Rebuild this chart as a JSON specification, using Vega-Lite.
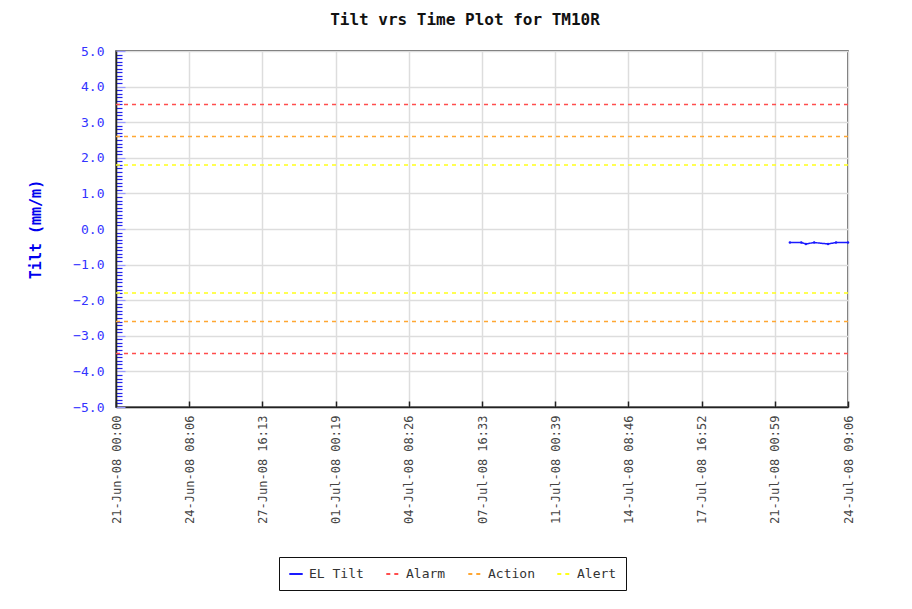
{
  "$schema": "https://vega.github.io/schema/vega-lite/v6.json",
  "width": 732,
  "height": 356,
  "autosize": {"type": "none"},
  "padding": {"left": 116, "top": 51, "right": 64, "bottom": 202},
  "background": "white",
  "title": {
    "text": "Tilt vrs Time Plot for TM10R",
    "font": "DejaVu Sans Mono",
    "fontSize": 16,
    "fontWeight": "bold",
    "color": "#111111",
    "anchor": "middle",
    "offset": 17,
    "dx": -17
  },
  "config": {
    "view": {"stroke": "#333333", "strokeWidth": 1.5},
    "axis": {"labelFont": "DejaVu Sans Mono", "titleFont": "DejaVu Sans Mono"}
  },
  "datasets": {
    "limits": [
      {"series": "Alarm", "value": 3.5},
      {"series": "Alarm", "value": -3.5},
      {"series": "Action", "value": 2.6},
      {"series": "Action", "value": -2.6},
      {"series": "Alert", "value": 1.8},
      {"series": "Alert", "value": -1.8}
    ],
    "tilt": [
      {"series": "EL Tilt", "time": "2008-07-21T17:30:00", "tilt": -0.38},
      {"series": "EL Tilt", "time": "2008-07-22T06:00:00", "tilt": -0.38},
      {"series": "EL Tilt", "time": "2008-07-22T11:00:00", "tilt": -0.42},
      {"series": "EL Tilt", "time": "2008-07-22T20:00:00", "tilt": -0.38},
      {"series": "EL Tilt", "time": "2008-07-23T11:15:00", "tilt": -0.42},
      {"series": "EL Tilt", "time": "2008-07-23T20:00:00", "tilt": -0.38},
      {"series": "EL Tilt", "time": "2008-07-24T09:06:00", "tilt": -0.38}
    ]
  },
  "layer": [
    {
      "data": {"name": "tilt"},
      "mark": {"type": "line", "strokeWidth": 1.5, "point": {"filled": true, "size": 6}},
      "encoding": {
        "x": {
          "field": "time",
          "type": "temporal",
          "scale": {
            "domain": [
              {"year": 2008, "month": "Jun", "date": 21, "hours": 0, "minutes": 0},
              {"year": 2008, "month": "Jul", "date": 24, "hours": 9, "minutes": 6}
            ]
          },
          "axis": {
            "title": null,
            "values": [
              {"year": 2008, "month": "Jun", "date": 21, "hours": 0, "minutes": 0},
              {"year": 2008, "month": "Jun", "date": 24, "hours": 8, "minutes": 6},
              {"year": 2008, "month": "Jun", "date": 27, "hours": 16, "minutes": 13},
              {"year": 2008, "month": "Jul", "date": 1, "hours": 0, "minutes": 19},
              {"year": 2008, "month": "Jul", "date": 4, "hours": 8, "minutes": 26},
              {"year": 2008, "month": "Jul", "date": 7, "hours": 16, "minutes": 33},
              {"year": 2008, "month": "Jul", "date": 11, "hours": 0, "minutes": 39},
              {"year": 2008, "month": "Jul", "date": 14, "hours": 8, "minutes": 46},
              {"year": 2008, "month": "Jul", "date": 17, "hours": 16, "minutes": 52},
              {"year": 2008, "month": "Jul", "date": 21, "hours": 0, "minutes": 59},
              {"year": 2008, "month": "Jul", "date": 24, "hours": 9, "minutes": 6}
            ],
            "tickCount": 50,
            "format": "%d-%b-%y %H:%M",
            "labelAngle": -90,
            "labelFontSize": 12,
            "labelColor": "#444444",
            "labelFlush": false,
            "labelOverlap": false,
            "labelPadding": 14,
            "tickSize": -6,
            "tickColor": "#222222",
            "tickWidth": 1.5,
            "domainColor": "#222222",
            "domainWidth": 1.5,
            "grid": true,
            "gridColor": "#dddddd",
            "gridWidth": 1.5
          }
        },
        "y": {
          "field": "tilt",
          "type": "quantitative",
          "scale": {"domain": [-5, 5], "nice": false, "zero": false},
          "axis": {
            "title": "Tilt (mm/m)",
            "titleColor": "#0000ee",
            "titleFontSize": 15,
            "titleFontWeight": "bold",
            "titleAngle": -90,
            "titleX": -81,
            "titleY": 178,
            "titleAlign": "center",
            "titleBaseline": "middle",
            "values": [-5, -4.9, -4.8, -4.7, -4.6, -4.5, -4.4, -4.3, -4.2, -4.1, -4, -3.9, -3.8, -3.7, -3.6, -3.5, -3.4, -3.3, -3.2, -3.1, -3, -2.9, -2.8, -2.7, -2.6, -2.5, -2.4, -2.3, -2.2, -2.1, -2, -1.9, -1.8, -1.7, -1.6, -1.5, -1.4, -1.3, -1.2, -1.1, -1, -0.9, -0.8, -0.7, -0.6, -0.5, -0.4, -0.3, -0.2, -0.1, 0, 0.1, 0.2, 0.3, 0.4, 0.5, 0.6, 0.7, 0.8, 0.9, 1, 1.1, 1.2, 1.3, 1.4, 1.5, 1.6, 1.7, 1.8, 1.9, 2, 2.1, 2.2, 2.3, 2.4, 2.5, 2.6, 2.7, 2.8, 2.9, 3, 3.1, 3.2, 3.3, 3.4, 3.5, 3.6, 3.7, 3.8, 3.9, 4, 4.1, 4.2, 4.3, 4.4, 4.5, 4.6, 4.7, 4.8, 4.9, 5],
            "tickCount": 500,
            "labelExpr": "abs(datum.value - round(datum.value)) < 0.01 ? format(datum.value, '.1f') : ''",
            "labelOverlap": false,
            "labelFontSize": 13,
            "labelColor": "#3333ff",
            "labelPadding": 21,
            "tickSize": {"condition": {"test": "abs(datum.value - round(datum.value)) < 0.01", "value": -9}, "value": -6},
            "tickColor": {"condition": {"test": "abs(datum.value - round(datum.value)) < 0.01", "value": "#9999ff"}, "value": "#2222ee"},
            "tickWidth": 1.2,
            "domainColor": "#222222",
            "domainWidth": 1.5,
            "grid": true,
            "gridColor": "#dddddd",
            "gridWidth": 1.5,
            "gridOpacity": {"condition": {"test": "abs(datum.value - round(datum.value)) < 0.01", "value": 1}, "value": 0}
          }
        },
        "color": {
          "field": "series",
          "type": "nominal",
          "scale": {
            "domain": ["EL Tilt", "Alarm", "Action", "Alert"],
            "range": ["#1a1aff", "#ff4d4d", "#ffa733", "#ffff1a"]
          },
          "legend": {
            "title": null,
            "orient": "none",
            "legendX": 163,
            "legendY": 506,
            "direction": "horizontal",
            "strokeColor": "#111111",
            "padding": 9,
            "symbolType": "stroke",
            "symbolSize": 180,
            "symbolStrokeWidth": 2,
            "labelFont": "DejaVu Sans Mono",
            "labelFontSize": 13,
            "labelColor": "#333333",
            "labelOffset": 5,
            "columnPadding": 18
          }
        },
        "strokeDash": {
          "field": "series",
          "type": "nominal",
          "scale": {
            "domain": ["EL Tilt", "Alarm", "Action", "Alert"],
            "range": [[1, 0], [4, 4], [4, 4], [4, 4]]
          },
          "legend": null
        }
      }
    },
    {
      "data": {"name": "limits"},
      "mark": {"type": "rule", "strokeWidth": 1.5},
      "encoding": {
        "y": {"field": "value", "type": "quantitative"},
        "color": {"field": "series", "type": "nominal"},
        "strokeDash": {"field": "series", "type": "nominal"}
      }
    }
  ]
}
